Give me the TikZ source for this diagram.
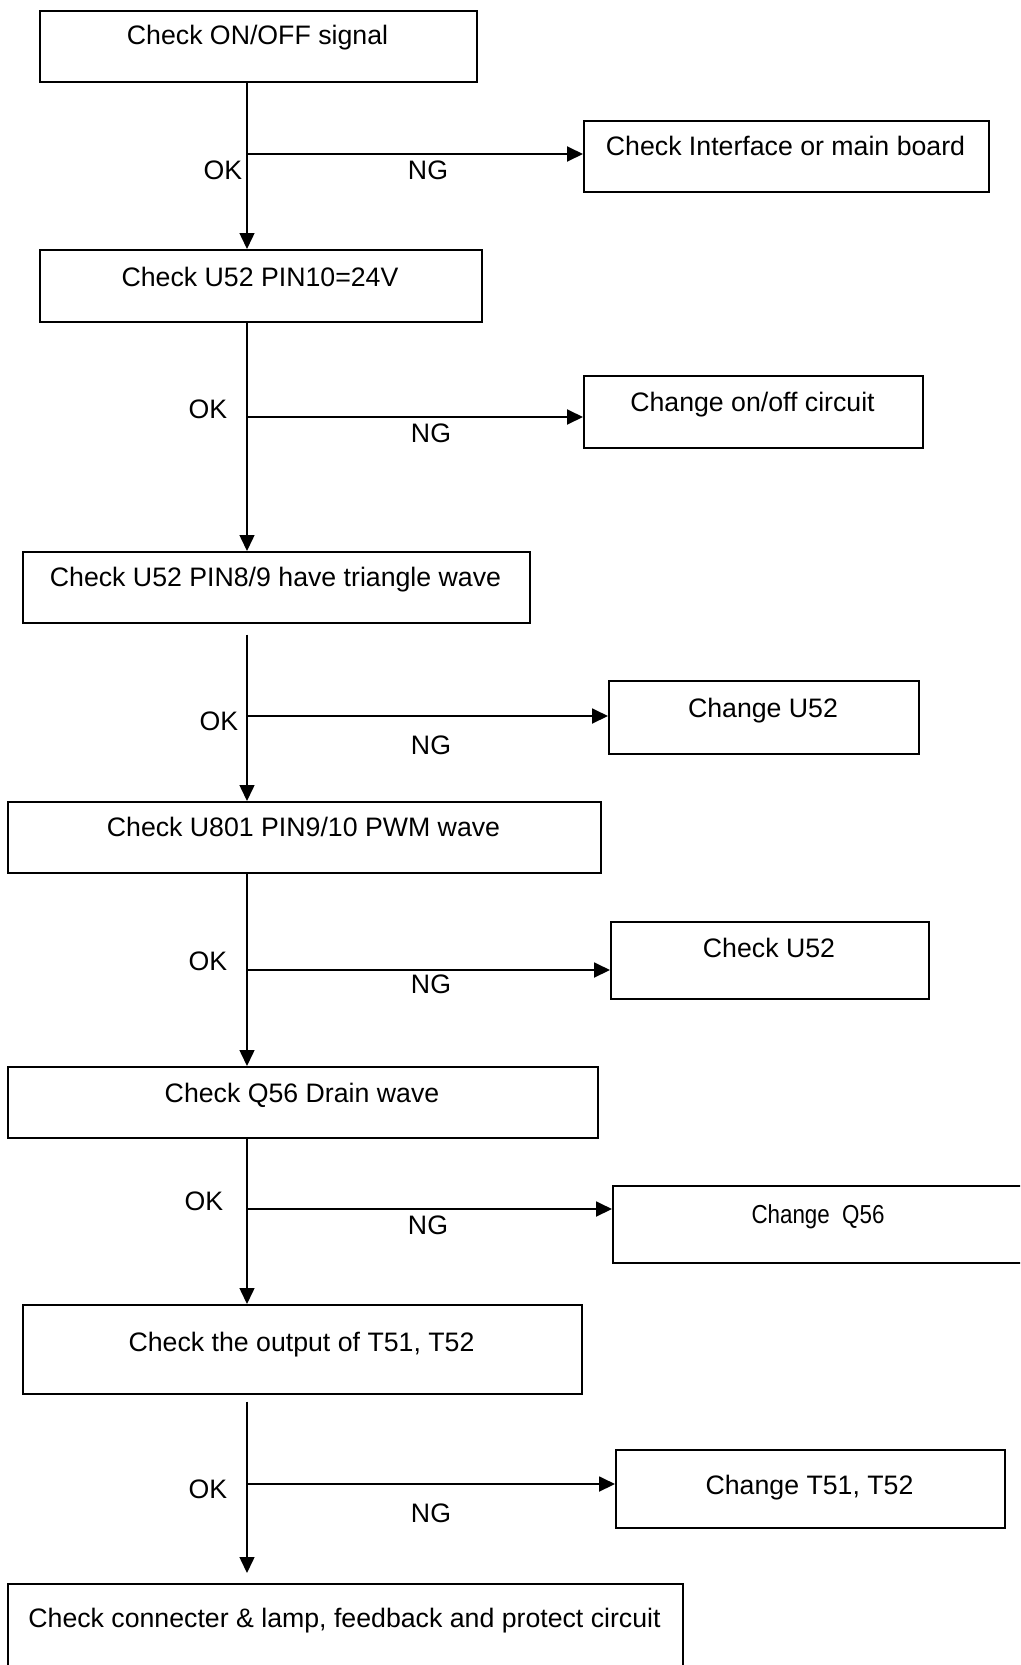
\documentclass[tikz,border=0pt]{standalone}
\usepackage{fontspec}
\setmainfont{Liberation Sans}
\usetikzlibrary{arrows.meta}
\begin{document}
\begin{tikzpicture}[x=1pt,y=-1pt,
  box/.style={draw, line width=1.5pt, inner sep=0pt, anchor=north west},
  txt/.style={anchor=base, inner sep=0pt, font=\fontsize{26.7}{32}\selectfont},
  vline/.style={line width=1.5pt, -{Triangle[length=16pt,width=15pt]}},
  hline/.style={line width=1.9pt, -{Triangle[length=16pt,width=15pt]}}]
\clip (0,0) rectangle (1020,1665);
\fill[white] (0,0) rectangle (1020,1665);
% main boxes
\node[box, minimum width=437pt, minimum height=71pt] (B1) at (39,10) {};
\node[box, minimum width=442pt, minimum height=72pt] (B2) at (39,249) {};
\node[box, minimum width=507pt, minimum height=71pt] (B3) at (22,551) {};
\node[box, minimum width=593pt, minimum height=71pt] (B4) at (7,801) {};
\node[box, minimum width=590pt, minimum height=71pt] (B5) at (7,1066) {};
\node[box, minimum width=559pt, minimum height=89pt] (B6) at (22,1304) {};
\node[box, minimum width=675pt, minimum height=95pt] (B7) at (7,1583) {};
% side boxes
\node[box, minimum width=405pt, minimum height=71pt] (R1) at (583,120) {};
\node[box, minimum width=339pt, minimum height=72pt] (R2) at (583,375) {};
\node[box, minimum width=310pt, minimum height=73pt] (R3) at (608,680) {};
\node[box, minimum width=318pt, minimum height=77pt] (R4) at (610,921) {};
\node[box, minimum width=414pt, minimum height=77pt] (R5) at (612,1185) {};
\node[box, minimum width=389pt, minimum height=78pt] (R6) at (615,1449) {};
% texts
\node[txt] (t1) at (257.5,44.5) {Check ON/OFF signal};
\node[txt] (t2) at (260,286.5) {Check U52 PIN10=24V};
\node[txt] (t3) at (275.5,586.5) {Check U52 PIN8/9 have triangle wave};
\node[txt] (t4) at (303.5,836.5) {Check U801 PIN9/10 PWM wave};
\node[txt] (t5) at (302,1102.5) {Check Q56 Drain wave};
\node[txt] (t6) at (301.5,1351.5) {Check the output of T51, T52};
\node[txt] (t7) at (344.5,1627.5) {Check connecter \& lamp, feedback and protect circuit};
\node[txt] (s1) at (785.5,155.5) {Check Interface or main board};
\node[txt] (s2) at (752.5,411.5) {Change on/off circuit};
\node[txt] (s3) at (763,717.5) {Change U52};
\node[txt] (s4) at (769,957.5) {Check U52};
\node[txt, font=\fontsize{26}{30}\selectfont] (s5) at (818,1223) {\scalebox{0.86}[1]{Change\ \ Q56}};
\node[txt] (s6) at (809.5,1494.5) {Change T51, T52};
% spine coordinates
\coordinate (sp) at (247,0);
\coordinate (j1) at (247,154);
\coordinate (j2) at (247,417);
\coordinate (j3) at (247,716);
\coordinate (j4) at (247,970);
\coordinate (j5) at (247,1209);
\coordinate (j6) at (247,1484);
% vertical arrows
\draw[vline] (B1.south -| sp) -- (B2.north -| sp);
\draw[vline] (B2.south -| sp) -- (B3.north -| sp);
\draw[vline] ([yshift=-11pt]B3.south -| sp) -- (B4.north -| sp);
\draw[vline] (B4.south -| sp) -- (B5.north -| sp);
\draw[vline] (B5.south -| sp) -- (B6.north -| sp);
\draw[vline, shorten >=10pt] ([yshift=-7pt]B6.south -| sp) -- (B7.north -| sp);
% branch arrows
\draw[hline] (j1) -- (j1 -| R1.west);
\draw[hline] (j2) -- (j2 -| R2.west);
\draw[hline] (j3) -- (j3 -| R3.west);
\draw[hline] (j4) -- (j4 -| R4.west);
\draw[hline] (j5) -- (j5 -| R5.west);
\draw[hline] (j6) -- (j6 -| R6.west);
% labels
\node[txt] (ok1) at (223,179.5) {OK};
\node[txt] (ng1) at (428,179.5) {NG};
\node[txt] (ok2) at (208,418.5) {OK};
\node[txt] (ng2) at (431,442.5) {NG};
\node[txt] (ok3) at (219,730.5) {OK};
\node[txt] (ng3) at (431,754.5) {NG};
\node[txt] (ok4) at (208,970.5) {OK};
\node[txt] (ng4) at (431,993.5) {NG};
\node[txt] (ok5) at (204,1210.5) {OK};
\node[txt] (ng5) at (428,1234.5) {NG};
\node[txt] (ok6) at (208,1498.5) {OK};
\node[txt] (ng6) at (431,1522.5) {NG};
\end{tikzpicture}
\end{document}
